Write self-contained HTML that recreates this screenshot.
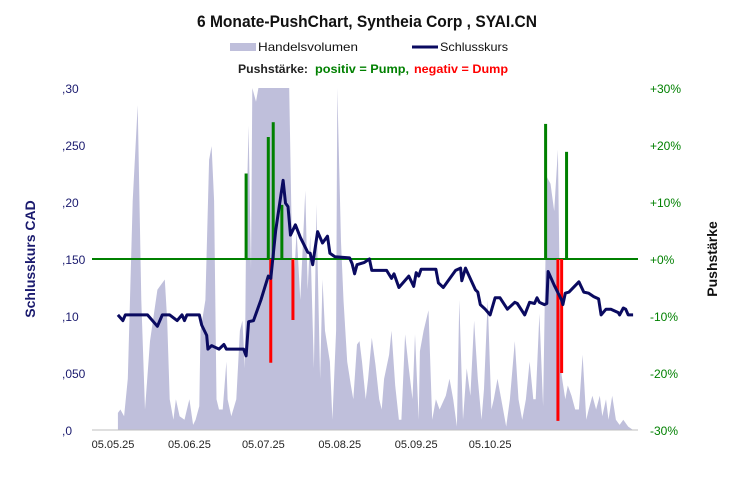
<!DOCTYPE html>
<html><head><meta charset="utf-8"><style>
html,body{margin:0;padding:0;background:#fff;}
svg{display:block;font-family:"Liberation Sans",sans-serif;}
</style></head><body>
<svg id="c" width="734" height="480" viewBox="0 0 734 480">
<text x="367" y="27" text-anchor="middle" font-size="17" font-weight="bold" fill="#111" textLength="340" lengthAdjust="spacingAndGlyphs">6 Monate-PushChart,  Syntheia Corp , SYAI.CN</text>
<rect x="230" y="43" width="26" height="8" fill="#bfbfdb"/>
<text x="258" y="51" font-size="12" fill="#111" textLength="100" lengthAdjust="spacingAndGlyphs">Handelsvolumen</text>
<line x1="412" y1="47" x2="438" y2="47" stroke="#0a0a60" stroke-width="3"/>
<text x="440" y="51" font-size="12" fill="#111" textLength="68" lengthAdjust="spacingAndGlyphs">Schlusskurs</text>
<text x="238" y="73" font-size="12" font-weight="bold" fill="#222" textLength="70" lengthAdjust="spacingAndGlyphs">Pushstärke:</text>
<text x="315" y="73" font-size="12" font-weight="bold" fill="#008000" textLength="94" lengthAdjust="spacingAndGlyphs">positiv = Pump,</text>
<text x="414" y="73" font-size="12" font-weight="bold" fill="#ff0000" textLength="94" lengthAdjust="spacingAndGlyphs">negativ = Dump</text>
<text transform="translate(35,259) rotate(-90)" text-anchor="middle" font-size="14" font-weight="bold" fill="#1a1a6e">Schlusskurs CAD</text>
<text transform="translate(717,259) rotate(-90)" text-anchor="middle" font-size="14" font-weight="bold" fill="#111">Pushstärke</text>
<g id="vol"></g><g id="grid"></g><g id="bars"></g><g id="line"></g><g id="axes"></g>
</svg>
<script>
const volDays=[2,3,4.5,6,8,10,11.5,13,15,18,19,21,22,23,24.5,25.5,27,29,30,31,32.5,33.5,35,35.5,37.5,39,40,41,42,43,44.5,46,46.5,48,50,51.5,52.5,53.5,54,55,56,56.5,58,59,71.5,73,74.5,76,78,79,80,81.5,82.5,84,85,86,88,89,90.5,91,92.5,93.5,95,96.5,97.5,99,100,101,102.5,103.5,105,106.5,108,109,110,112,113,114.5,116,117,118.5,120,121.5,122.5,124,124.5,126,128,129.5,131,132.5,135,136.5,138,139.5,140.5,142,143.5,145,146.5,148,149.5,150.5,152,153.5,154.5,156,158,159.5,161,163,164.5,166,167.5,169,170.5,171.5,173,174.5,176,177.5,179,180.5,181.5,182,183.5,184.5,186,187.5,189,190.5,192,193,194.5,196,197.5,198.5,200,201,202.5,204,205.5,207,209,211];
const volValues=[5,6,4,15,67,95,38,6,26,41,42,44,32,9,3,9,4,3,6,9,1.5,3,7,29,38,79,83,67,9,6,6,20,9,4,9,29,32,18,58,89,47,110,96,110,110,38,58,38,70,41,57,18,66,15,44,29,20,3,29,110,55,38,20,13,9,25,26,20,9,15,27,19,9,6,15,22,29,13,3,3,28,18,9,28,3,23,29,35,3,9,6,10,15,9,1,38,3,18,10,32,15,3,12,38,6,9,15,7,1,9,26,9,3,9,20,9,9,34,7,74,72,64,82,26,16,9,13,10,6,6,22,3,6,10,6,10,4,9,3,10,3,1.5,3,1,0];
const priceDays=[2,4,5,14,18,20,23,26,28,29,30,35,36,38,38.5,40,41,43,45,46,53,54,55,57,60,62,63,64,66,69,70,71,72,74,76,79,80,81,83,85,87,88,90,96,97,98,99,102,104,105,111,113,114,116,120,122,123,124,125,131,132,134,139,141,141.5,143,147,148,149,151,153,155,157,160,163,164,167,169,171,172,173,174,175,176,176.5,179,182,182.5,183.5,185,189,191,193,195,197,198,200,202,205,205.5,207,208,209,211];
const priceValues=[0.101,0.096,0.101,0.101,0.091,0.101,0.101,0.096,0.101,0.096,0.101,0.101,0.092,0.083,0.071,0.074,0.073,0.071,0.075,0.071,0.071,0.065,0.095,0.096,0.114,0.128,0.135,0.133,0.175,0.219,0.199,0.196,0.171,0.180,0.169,0.156,0.155,0.145,0.174,0.164,0.170,0.155,0.152,0.151,0.146,0.137,0.145,0.147,0.150,0.140,0.140,0.133,0.137,0.125,0.135,0.126,0.138,0.135,0.141,0.141,0.129,0.125,0.140,0.142,0.131,0.142,0.123,0.121,0.110,0.106,0.101,0.116,0.116,0.106,0.112,0.111,0.101,0.112,0.111,0.116,0.112,0.111,0.110,0.111,0.139,0.127,0.114,0.110,0.120,0.121,0.130,0.121,0.120,0.117,0.115,0.101,0.106,0.106,0.103,0.101,0.107,0.106,0.101,0.101];
const pushDays=[54,63,65,68.5,64,73,175.5,184,180.5,182];
const pushValues=[15,21.4,24,9.5,-18.2,-10.7,23.7,18.8,-28.4,-20];
const leftTicks=[0,0.05,0.10,0.15,0.20,0.25,0.30];
const leftTickLabels=[",0",",050",",10",",150",",20",",250",",30"];
const rightTicks=[-30,-20,-10,0,10,20,30];
const rightTickLabels=["-30%","-20%","-10%","+0%","+10%","+20%","+30%"];
const xTickDays=[0,31,61,92,123,153];
const xTickLabels=["05.05.25","05.06.25","05.07.25","05.08.25","05.09.25","05.10.25"];

const NS="http://www.w3.org/2000/svg";
const X0=92,X1=638,Y0=88,Y1=430;
function xOf(d){return 113+d*2.465;}
function yPrice(p){return Y1-p/0.30*(Y1-Y0);}
function yVol(v){return Y1-Math.min(v,100)/100*(Y1-Y0);}
function yPush(v){return 259-v/30*171;}
function mk(tag,attrs,parent){const e=document.createElementNS(NS,tag);for(const k in attrs)e.setAttribute(k,attrs[k]);document.getElementById(parent).appendChild(e);return e;}

let d="M"+xOf(volDays[0])+","+Y1;
volDays.forEach((dd,i)=>{d+=" L"+xOf(dd).toFixed(1)+","+yVol(volValues[i]).toFixed(1);});
d+=" L"+xOf(volDays[volDays.length-1])+","+Y1+" Z";
const va=mk("path",{d:d,fill:"#bfbfdb"},"vol");



const zl=mk("line",{x1:X0,x2:X1,y1:yPush(0),y2:yPush(0),stroke:"#008000","stroke-width":2},"grid");



pushDays.forEach((dd,i)=>{
  const v=pushValues[i];const y0=yPush(0),y1=yPush(v);
  const b=mk("rect",{x:xOf(dd)-1.5,y:Math.min(y0,y1),width:3,height:Math.abs(y1-y0),fill:v>=0?"#008000":"#ff0000"},"bars");
  
  
});

const pts=priceDays.map((dd,i)=>xOf(dd).toFixed(1)+","+yPrice(priceValues[i]).toFixed(1)).join(" ");
const pl=mk("polyline",{points:pts,fill:"none",stroke:"#0a0a60","stroke-width":3,"stroke-linejoin":"round"},"line");



const ax=mk("line",{x1:X0,x2:X1,y1:Y1,y2:Y1,stroke:"#bfbfbf","stroke-width":1},"axes");


leftTicks.forEach((t,i)=>{
  const e=mk("text",{x:62,y:yPrice(t)+5,"font-size":12,fill:"#1a1a6e"},"axes");
  e.textContent=leftTickLabels[i];
  
  
});
rightTicks.forEach((t,i)=>{
  const e=mk("text",{x:650,y:yPush(t)+5,"font-size":12,fill:"#008000"},"axes");
  e.textContent=rightTickLabels[i];
  
  
});
xTickDays.forEach((t,i)=>{
  const e=mk("text",{x:xOf(t),y:448,"font-size":11,fill:"#222","text-anchor":"middle"},"axes");
  e.textContent=xTickLabels[i];
  
  
});
</script>
</body></html>
